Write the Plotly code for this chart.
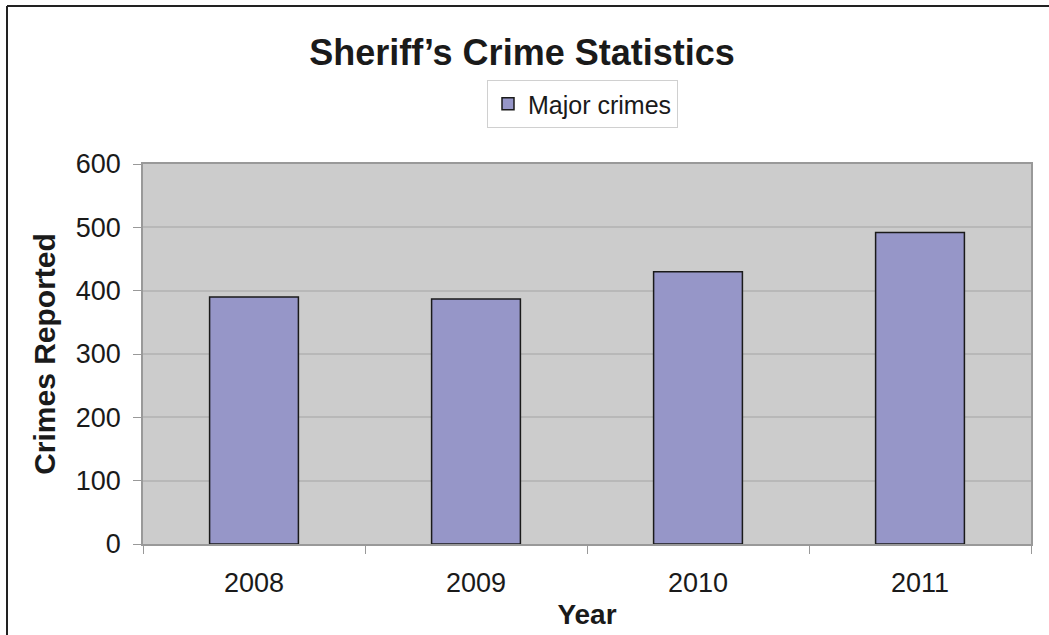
import plotly.graph_objects as go

years = ["2008", "2009", "2010", "2011"]
major_crimes = [390, 387, 430, 492]
y_ticks = [0, 100, 200, 300, 400, 500, 600]

W, H = 1049, 635
L, R, T, B = 143, 18, 164, 91
PW, PH = W - L - R, H - T - B

def px_x(x):
    return (x - L) / PW

def px_y(y):
    return (H - B - y) / PH

fig = go.Figure()
fig.add_trace(go.Bar(
    x=years, y=major_crimes, name="Major crimes",
    marker=dict(color="#9696c8", line=dict(color="#1a1a1a", width=1.5)),
))

font_family = "Liberation Sans, Arial, sans-serif"
ink = "#1a1a1a"

fig.update_layout(
    width=W, height=H,
    margin=dict(l=L, r=R, t=T, b=B, autoexpand=False),
    paper_bgcolor="white", plot_bgcolor="#cccccc",
    font=dict(family=font_family, color=ink),
    bargap=0.6,
    showlegend=True,
    title=dict(text="<b>Sheriff’s Crime Statistics</b>", x=522 / W, xref="container",
               y=1 - 52 / H, yref="container", xanchor="center", yanchor="middle",
               font=dict(size=36, color=ink)),
    legend=dict(x=px_x(487), y=px_y(80), xanchor="left", yanchor="top",
                bordercolor="#d0d0d0", borderwidth=1, bgcolor="white",
                font=dict(size=25, color=ink), itemwidth=30),
    xaxis=dict(type="category", tickson="boundaries", ticks="outside", ticklen=8,
               tickcolor="#999999", showline=True, linecolor="#999999", linewidth=1.5,
               mirror=True, showgrid=False, ticklabelstandoff=14,
               tickfont=dict(size=27, color=ink),
               title=dict(text="<b>Year</b>", font=dict(size=28, color=ink), standoff=7)),
    yaxis=dict(range=[0, 600], tickvals=y_ticks, ticks="outside", ticklen=8,
               tickcolor="#999999", showline=True, linecolor="#999999", linewidth=1.5,
               mirror=True, showgrid=True, gridcolor="#b8b8b8", gridwidth=1.5,
               zeroline=False, ticklabelstandoff=7,
               tickfont=dict(size=27, color=ink),
               title=dict(text="<b>Crimes Reported</b>", font=dict(size=30, color=ink), standoff=11)),
    shapes=[
        dict(type="line", xref="paper", yref="paper", x0=px_x(7), x1=px_x(W + 5),
             y0=px_y(6), y1=px_y(6), line=dict(color="#222222", width=2)),
        dict(type="line", xref="paper", yref="paper", x0=px_x(7), x1=px_x(7),
             y0=px_y(6), y1=px_y(H + 5), line=dict(color="#222222", width=2)),
    ],
)

fig.write_html("out.html", config={"displayModeBar": False},
               post_script="document.body.style.margin='0';")
